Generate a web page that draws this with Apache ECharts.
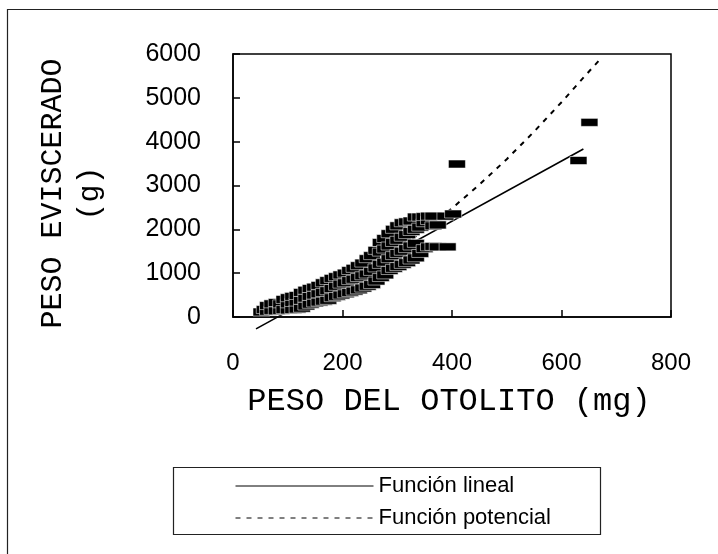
<!DOCTYPE html>
<html>
<head>
<meta charset="utf-8">
<script src="https://cdn.jsdelivr.net/npm/echarts@6/dist/echarts.min.js"></script>
<style>
  html, body { margin: 0; padding: 0; background: #fff; }
  #chart { width: 718px; height: 554px; }
</style>
</head>
<body>
<div id="chart"></div>
<script>
// Otolith weight (mg) and gutted weight (g) of each fish
const otolithMg = [
  52, 58, 64, 64, 72, 72, 80, 80, 88, 88, 94, 94,
  102, 102, 102, 110, 110, 110, 118, 118, 118, 126, 126, 126,
  134, 134, 134, 142, 142, 142, 150, 150, 150, 158, 158, 158,
  166, 166, 166, 174, 174, 174, 182, 182, 182, 190, 190, 190,
  198, 198, 198, 206, 206, 206, 214, 214, 214, 222, 222, 222,
  230, 230, 230, 238, 238, 238, 246, 246, 246, 254, 254, 254,
  262, 262, 262, 270, 270, 270, 270, 278, 278, 278, 278,
  286, 286, 286, 286, 294, 294, 294, 294, 302, 302, 302, 302,
  310, 310, 310, 310, 318, 318, 318, 318, 326, 326, 326, 326,
  334, 334, 334, 334, 342, 342, 342, 350, 350, 350,
  358, 358, 358, 366, 366, 366, 374, 374,
  388, 392, 402,
  409, 631, 651
];
const guttedG = [
  114, 170, 130, 260, 150, 300, 140, 330, 150, 300, 170, 400,
  160, 300, 440, 170, 330, 470, 180, 340, 490, 200, 380, 560,
  250, 430, 610, 290, 470, 650, 320, 500, 680, 340, 530, 720,
  360, 560, 780, 380, 600, 830, 440, 650, 880, 470, 700, 920,
  500, 750, 960, 530, 780, 1000, 560, 830, 1060, 590, 860, 1110,
  620, 900, 1170, 660, 940, 1230, 700, 980, 1330, 740, 1040, 1400,
  820, 1120, 1520, 900, 1200, 1480, 1700, 960, 1250, 1550, 1790,
  1060, 1330, 1620, 1900, 1110, 1400, 1700, 2000, 1150, 1450, 1750, 2080,
  1200, 1500, 1820, 2150, 1240, 1560, 1880, 2170, 1300, 1620, 1950, 2190,
  1350, 1680, 2000, 2280, 1450, 2050, 2280, 1560, 2150, 2290,
  1600, 2200, 2300, 1610, 2080, 2300, 1600, 2100,
  2300, 1600, 2350,
  3490, 3570, 4440
];

// Fitted curves, read along their drawn paths
const linearFitX = [42, 640];
const linearFitY = [-270, 3833];
const powerFitX = [60, 100, 150, 200, 250, 300, 350, 400, 450, 500, 550, 600, 640, 672];
const powerFitY = [100, 240, 475, 770, 1130, 1530, 1990, 2480, 3020, 3600, 4230, 4900, 5460, 5900];

const seriesNames = ['Función lineal', 'Función potencial'];
const xTitle = 'PESO DEL OTOLITO (mg)';
const yTitle = 'PESO EVISCERADO\n(g)';

const pair = (xs, ys) => xs.map((x, i) => [x, ys[i]]);
const plain = v => String(v);

const sansFont = "'Liberation Sans', Arial, sans-serif";
const monoFont = "'Courier New', 'Liberation Mono', monospace";

const chart = echarts.init(document.getElementById('chart'), null, { renderer: 'canvas' });

chart.setOption({
  backgroundColor: '#fff',
  animation: false,
  grid: {
    left: 233, right: 47, top: 54, bottom: 237,
    containLabel: false,
    outerBoundsMode: 'none',
    show: true,
    borderColor: '#000',
    borderWidth: 1.5,
    backgroundColor: 'transparent'
  },
  xAxis: {
    type: 'value',
    min: 0, max: 800, interval: 200,
    axisLine: { show: true, lineStyle: { color: '#000', width: 1.5 } },
    axisTick: { show: true, inside: true, length: 7, lineStyle: { color: '#000', width: 1.5 } },
    axisLabel: { margin: 34, fontFamily: sansFont, fontSize: 24, color: '#000', formatter: plain },
    splitLine: { show: false }
  },
  yAxis: {
    type: 'value',
    min: 0, max: 6000, interval: 1000,
    name: yTitle,
    nameLocation: 'middle',
    nameRotate: 90,
    nameGap: 124,
    nameTextStyle: {
      fontFamily: monoFont, fontSize: 30, lineHeight: 37, color: '#000', align: 'center',
      padding: [0, 16, 0, 0]
    },
    axisLine: { show: true, lineStyle: { color: '#000', width: 1.5 } },
    axisTick: { show: true, inside: true, length: 7, lineStyle: { color: '#000', width: 1.5 } },
    axisLabel: { margin: 32, fontFamily: sansFont, fontSize: 25, color: '#000', formatter: plain },
    splitLine: { show: false }
  },
  legend: {
    data: seriesNames,
    orient: 'vertical',
    left: 235,
    top: 473,
    itemWidth: 138,
    itemHeight: 14,
    itemGap: 6,
    padding: 0,
    itemStyle: { opacity: 0 },
    lineStyle: { width: 1 },
    textStyle: { fontFamily: sansFont, fontSize: 22, lineHeight: 26, color: '#000' },
    selectedMode: false
  },
  series: [
    {
      name: seriesNames[0],
      type: 'line',
      data: pair(linearFitX, linearFitY),
      symbol: 'none',
      clip: false,
      z: 2,
      itemStyle: { color: '#000' },
      lineStyle: { color: '#000', width: 1.6, type: 'solid' }
    },
    {
      name: seriesNames[1],
      type: 'line',
      data: pair(powerFitX, powerFitY),
      symbol: 'none',
      z: 2,
      itemStyle: { color: '#000' },
      lineStyle: { color: '#000', width: 2, type: [5, 6] }
    },
    {
      name: 'datos',
      type: 'scatter',
      data: pair(otolithMg, guttedG),
      symbol: 'rect',
      symbolSize: [17, 8],
      z: 3,
      itemStyle: { color: '#000', borderColor: '#fff', borderWidth: 0.5, opacity: 1 }
    }
  ],
  graphic: [
    {
      type: 'rect',
      silent: true,
      shape: { x: 7.5, y: 9.5, width: 720, height: 560 },
      style: { fill: 'none', stroke: '#222', lineWidth: 1.2 }
    },
    {
      type: 'rect',
      silent: true,
      shape: { x: 173.5, y: 467.5, width: 427, height: 67 },
      style: { fill: 'none', stroke: '#222', lineWidth: 1.2 }
    },
    {
      // x-axis title
      type: 'text',
      silent: true,
      x: 449,
      y: 402,
      style: {
        text: xTitle,
        fill: '#000',
        font: "32px 'Courier New', 'Liberation Mono', monospace",
        align: 'center',
        verticalAlign: 'middle'
      }
    }
  ]
});
</script>
</body>
</html>
